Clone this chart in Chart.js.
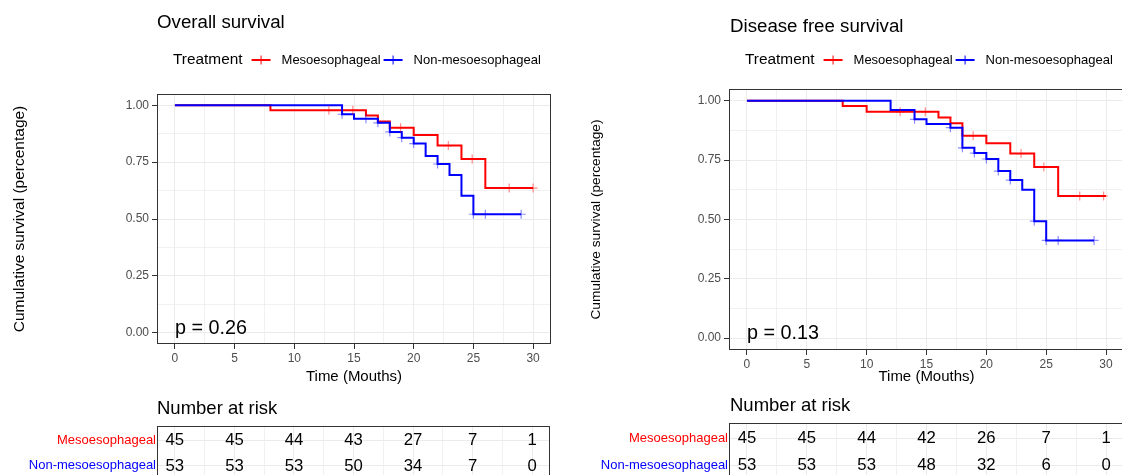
<!DOCTYPE html>
<html><head><meta charset="utf-8">
<script src="https://cdn.jsdelivr.net/npm/chart.js@4.4.1/dist/chart.umd.min.js"></script>
<style>
html,body{margin:0;padding:0;width:1122px;height:475px;overflow:hidden;background:#fff}
canvas{position:absolute;display:block}
</style></head><body>
<canvas id="osPlot" width="560" height="400" style="left:0px;top:0px"></canvas>
<canvas id="osRisk" width="560" height="101" style="left:0px;top:380px"></canvas>
<canvas id="dfsPlot" width="560" height="400" style="left:570px;top:0px"></canvas>
<canvas id="dfsRisk" width="560" height="101" style="left:570px;top:380px"></canvas>
<script>
// ---------------- data ----------------
const groups = ['Mesoesophageal', 'Non-mesoesophageal'];
const timeTicks = [0, 5, 10, 15, 20, 25, 30];
const survTicks = [0, 0.25, 0.5, 0.75, 1];
const riskTimes = [0, 5, 10, 15, 20, 25, 30];

// Overall survival
const osMesoTime = [0, 8, 16, 17, 18, 20, 22, 24, 26, 30];
const osMesoSurv = [1, 0.978, 0.955, 0.929, 0.902, 0.870, 0.823, 0.764, 0.636, 0.636];
const osMesoCensor = [12.9, 14.9, 18.9, 22.9, 24.9, 28, 30];
const osNonTime = [0, 14, 15, 17, 18, 19, 20, 21, 22, 23, 24, 25, 29];
const osNonSurv = [1, 0.961, 0.941, 0.923, 0.883, 0.858, 0.832, 0.777, 0.742, 0.694, 0.602, 0.521, 0.521];
const osNonCensor = [14, 16, 17, 18, 19, 20, 22, 25, 26, 29];
const osRiskMeso = [45, 45, 44, 43, 27, 7, 1];
const osRiskNon = [53, 53, 53, 50, 34, 7, 0];

// Disease free survival
const dfsMesoTime = [0, 8, 10, 16, 17, 18, 20, 22, 24, 26, 30];
const dfsMesoSurv = [1, 0.978, 0.954, 0.930, 0.906, 0.853, 0.821, 0.778, 0.721, 0.599, 0.599];
const dfsMesoCensor = [12.8, 14.9, 18.9, 22.9, 24.8, 27.8, 29.8];
const dfsNonTime = [0, 12, 14, 15, 17, 18, 19, 20, 21, 22, 23, 24, 25, 29];
const dfsNonSurv = [1, 0.961, 0.922, 0.902, 0.887, 0.802, 0.780, 0.755, 0.704, 0.666, 0.625, 0.493, 0.412, 0.412];
const dfsNonCensor = [14, 17, 18, 19, 20, 21, 22, 24, 25, 26, 29];
const dfsRiskMeso = [45, 45, 44, 42, 26, 7, 1];
const dfsRiskNon = [53, 53, 53, 48, 32, 6, 0];

// ---------------- styling / helpers ----------------
const FONT = "'Liberation Sans', Arial, Helvetica, sans-serif";
const RED = '#FF0000', BLUE = '#0000FF';
const COLORS = [RED, BLUE];
const GRID = '#EBEBEB';

function withMinor(ticks) {
  const out = [];
  ticks.forEach((t, i) => { out.push(t); if (i < ticks.length - 1) out.push((t + ticks[i + 1]) / 2); });
  return out;
}
function stepData(times, survs) { return times.map((t, i) => ({x: t, y: survs[i]})); }
function censorData(cens, times, survs) {
  return cens.map(t => {
    let k = 0;
    for (let i = 0; i < times.length; i++) if (times[i] <= t) k = i;
    return {x: t, y: survs[k]};
  });
}

const kmDecor = {
  id: 'kmDecor',
  afterDraw(chart, args, o) {
    const {ctx, chartArea: a} = chart;
    ctx.save();
    // panel border
    ctx.strokeStyle = '#333333'; ctx.lineWidth = 1;
    ctx.strokeRect(Math.round(a.left) + 0.5, Math.round(a.top) + 0.5, Math.round(a.right - a.left) - 1, Math.round(a.bottom - a.top) - 1);
    // title
    ctx.fillStyle = '#000'; ctx.textBaseline = 'middle'; ctx.textAlign = 'left';
    ctx.font = `${o.titleSize}px ${FONT}`;
    ctx.fillText(o.title, a.left + o.titleDx, o.titleY);
    // legend
    let x = a.left + 16; const y = o.legendY;
    ctx.font = `15.4px ${FONT}`;
    ctx.fillText('Treatment', x, y);
    x += ctx.measureText('Treatment').width + 9;
    groups.forEach((g, i) => {
      ctx.strokeStyle = COLORS[i];
      ctx.lineWidth = 2;
      ctx.beginPath(); ctx.moveTo(x, y); ctx.lineTo(x + 19, y); ctx.stroke();
      ctx.lineWidth = 1;
      ctx.beginPath(); ctx.moveTo(x + 9.5, y - 4.5); ctx.lineTo(x + 9.5, y + 4.5); ctx.stroke();
      x += 30;
      ctx.font = `13px ${FONT}`;
      ctx.fillStyle = '#000';
      ctx.fillText(g, x, y);
      x += ctx.measureText(g).width + 3;
    });
    // p-value
    const xs = chart.scales.x, ys = chart.scales.y;
    ctx.font = `19.8px ${FONT}`;
    ctx.fillText(o.pText, xs.getPixelForValue(o.pAt[0]), ys.getPixelForValue(o.pAt[1]));
    ctx.restore();
  }
};

const riskDecor = {
  id: 'riskDecor',
  afterDraw(chart, args, o) {
    const {ctx, chartArea: a} = chart;
    const xs = chart.scales.x, ys = chart.scales.y;
    ctx.save();
    ctx.fillStyle = '#000'; ctx.textBaseline = 'middle'; ctx.textAlign = 'center';
    ctx.font = `16.7px ${FONT}`;
    chart.data.datasets[0].data.forEach(p => {
      ctx.fillText(String(p.n), xs.getPixelForValue(p.x), ys.getPixelForValue(p.y));
    });
    ctx.strokeStyle = '#333333'; ctx.lineWidth = 1;
    ctx.strokeRect(Math.round(a.left) + 0.5, Math.round(a.top) + 0.5, Math.round(a.right - a.left) - 1, Math.round(a.bottom - a.top) + 10);
    ctx.textAlign = 'left';
    ctx.font = `18.5px ${FONT}`;
    ctx.fillText(o.title, a.left + o.titleDx, a.top - 16.7);
    ctx.restore();
  }
};

function isIn(arr, v) { return arr.some(t => Math.abs(t - v) < 1e-9); }

function kmChart(id, c) {
  return new Chart(document.getElementById(id), {
    type: 'scatter',
    data: {
      datasets: [
        {label: groups[1], data: stepData(c.nonTime, c.nonSurv), showLine: true, stepped: 'before',
         borderColor: BLUE, borderWidth: 2, pointRadius: 0, fill: false, order: 2},
        {label: groups[0], data: stepData(c.mesoTime, c.mesoSurv), showLine: true, stepped: 'before',
         borderColor: RED, borderWidth: 2, pointRadius: 0, fill: false, order: 3},
        {label: groups[1] + ' censored', data: censorData(c.nonCensor, c.nonTime, c.nonSurv),
         pointStyle: 'cross', pointRadius: 4.5, borderColor: 'rgba(0,0,255,0.45)', pointBorderWidth: 1.2, borderWidth: 1.2, order: 0},
        {label: groups[0] + ' censored', data: censorData(c.mesoCensor, c.mesoTime, c.mesoSurv),
         pointStyle: 'cross', pointRadius: 4.5, borderColor: 'rgba(255,0,0,0.45)', pointBorderWidth: 1.2, borderWidth: 1.2, order: 1}
      ]
    },
    options: {
      responsive: false, animation: false, events: [],
      layout: {padding: {left: 0, right: c.padRight, top: c.padTop, bottom: 0}},
      plugins: {
        legend: {display: false}, tooltip: {enabled: false},
        kmDecor: {title: c.title, titleSize: 18.7, titleY: c.titleY, titleDx: c.titleDx, legendY: 60, pText: c.pText, pAt: [0, 0.02]}
      },
      scales: {
        x: {
          type: 'linear', min: -1.5, max: 31.5,
          afterBuildTicks: s => { s.ticks = withMinor(timeTicks).map(v => ({value: v})); },
          afterFit: s => { s.height = c.xAxisH; s.paddingLeft = 0; s.paddingRight = 0; },
          border: {display: false},
          grid: {color: GRID, lineWidth: ctx => isIn(timeTicks, ctx.tick.value) ? 1 : 0.7,
                 tickLength: 5, tickWidth: 1,
                 tickColor: ctx => isIn(timeTicks, ctx.tick.value) ? '#333333' : 'rgba(0,0,0,0)'},
          ticks: {color: '#4D4D4D', font: {family: FONT, size: 12}, padding: 2, maxRotation: 0, autoSkip: false,
                  callback: v => isIn(timeTicks, v) ? String(v) : ''},
          title: {display: true, text: 'Time (Mouths)', color: '#000', font: {family: FONT, size: 15},
                  padding: {top: 0, bottom: c.xTitlePad}}
        },
        y: {
          type: 'linear', min: -0.05, max: 1.05,
          afterBuildTicks: s => { s.ticks = withMinor(survTicks).map(v => ({value: v})); },
          afterFit: s => { s.width = c.yAxisW; s.paddingTop = 0; s.paddingBottom = 0; },
          border: {display: false},
          grid: {color: GRID, lineWidth: ctx => isIn(survTicks, ctx.tick.value) ? 1 : 0.7,
                 tickLength: 5, tickWidth: 1,
                 tickColor: ctx => isIn(survTicks, ctx.tick.value) ? '#333333' : 'rgba(0,0,0,0)'},
          ticks: {color: '#4D4D4D', font: {family: FONT, size: 12}, padding: 3, autoSkip: false,
                  callback: v => isIn(survTicks, v) ? v.toFixed(2) : ''},
          title: {display: true, text: 'Cumulative survival (percentage)', color: '#000',
                  font: {family: FONT, size: c.yTitleSize}, padding: {top: c.yTitlePad, bottom: 0}}
        }
      }
    },
    plugins: [kmDecor]
  });
}

function riskChart(id, c) {
  const pts = [];
  [c.meso, c.non].forEach((row, r) => row.forEach((n, i) => pts.push({x: riskTimes[i], y: r + 1, n: n})));
  return new Chart(document.getElementById(id), {
    type: 'scatter',
    data: {datasets: [{label: 'Number at risk', data: pts, pointRadius: 0}]},
    options: {
      responsive: false, animation: false, events: [],
      layout: {padding: {left: 0, right: c.padRight, top: c.padTop, bottom: 0}},
      plugins: {legend: {display: false}, tooltip: {enabled: false}, riskDecor: {title: 'Number at risk', titleDx: c.titleDx}},
      scales: {
        x: {
          type: 'linear', min: -1.5, max: 31.5,
          afterBuildTicks: s => { s.ticks = withMinor(timeTicks).map(v => ({value: v})); },
          afterFit: s => { s.height = 0; s.paddingLeft = 0; s.paddingRight = 0; },
          border: {display: false},
          grid: {color: GRID, drawTicks: false, lineWidth: ctx => isIn(timeTicks, ctx.tick.value) ? 1 : 0.7},
          ticks: {display: false}
        },
        y: {
          type: 'linear', min: 0.4, max: 2.6, reverse: true,
          afterBuildTicks: s => { s.ticks = [{value: 1}, {value: 2}]; },
          afterFit: s => { s.width = c.yAxisW; s.paddingTop = 0; s.paddingBottom = 0; },
          border: {display: false},
          grid: {color: GRID, drawTicks: false},
          ticks: {font: {family: FONT, size: 13}, padding: 1, autoSkip: false,
                  color: ctx => COLORS[ctx.index],
                  callback: v => groups[Math.round(v) - 1]}
        }
      }
    },
    plugins: [riskDecor]
  });
}

kmChart('osPlot', {
  title: 'Overall survival', titleY: 23, titleDx: 0, pText: 'p = 0.26',
  mesoTime: osMesoTime, mesoSurv: osMesoSurv, mesoCensor: osMesoCensor,
  nonTime: osNonTime, nonSurv: osNonSurv, nonCensor: osNonCensor,
  padTop: 94, padRight: 9, xAxisH: 56, yAxisW: 157, xTitlePad: 14, yTitleSize: 15.5, yTitlePad: 10
});
riskChart('osRisk', {meso: osRiskMeso, non: osRiskNon, padTop: 45.7, padRight: 10, yAxisW: 157, titleDx: 0});

kmChart('dfsPlot', {
  title: 'Disease free survival', titleY: 26.7, titleDx: 1, pText: 'p = 0.13',
  mesoTime: dfsMesoTime, mesoSurv: dfsMesoSurv, mesoCensor: dfsMesoCensor,
  nonTime: dfsNonTime, nonSurv: dfsNonSurv, nonCensor: dfsNonCensor,
  padTop: 89, padRight: 6, xAxisH: 50, yAxisW: 159, xTitlePad: 13.7, yTitleSize: 13.7, yTitlePad: 18
});
riskChart('dfsRisk', {meso: dfsRiskMeso, non: dfsRiskNon, padTop: 42.7, padRight: 6, yAxisW: 159, titleDx: 1});
</script>
</body></html>
